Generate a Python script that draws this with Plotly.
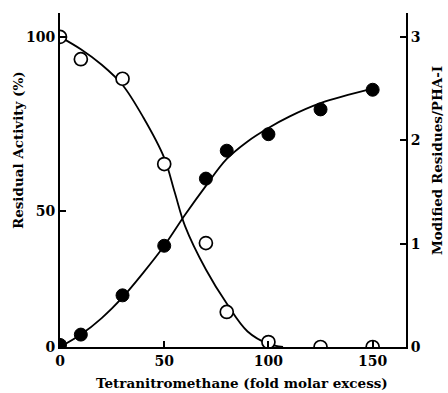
import plotly.graph_objects as go

# Open circles: residual activity (%)
act_x = [0, 10, 30, 50, 70, 80, 100, 125, 150]
act_y = [100, 92.8, 86.5, 59.0, 33.5, 11.3, 1.6, 0, 0]
# Filled circles: modified residues per PHA-I
mod_x = [0, 10, 30, 50, 70, 80, 100, 125, 150]
mod_y = [0.02, 0.12, 0.50, 0.98, 1.63, 1.90, 2.06, 2.30, 2.49]

# Hand-drawn fitted curves
act_curve_x = [0, 10, 20, 30, 40, 50, 55, 60, 70, 80, 90, 100, 107]
act_curve_y = [100, 96, 91, 84.5, 74, 61, 50, 39, 25, 14, 5, 1, 0]
mod_curve_x = [0, 10, 20, 30, 40, 50, 60, 70, 80, 90, 100, 110, 125, 150]
mod_curve_y = [0, 0.12, 0.28, 0.48, 0.72, 0.98, 1.28, 1.56, 1.82, 1.99, 2.12, 2.23, 2.36, 2.50]

x_ticks = [0, 50, 100, 150]
left_tickvals = [0, 43.9, 100]
left_ticktext = ["0", "50", "100"]
right_ticks = [0, 1, 2, 3]

font_family = "DejaVu Serif"
fig = go.Figure()

fig.add_trace(go.Scatter(x=act_curve_x, y=act_curve_y, mode="lines", line=dict(color="black", width=1.8, shape="spline"),
                         yaxis="y", showlegend=False, hoverinfo="skip"))
fig.add_trace(go.Scatter(x=mod_curve_x, y=mod_curve_y, mode="lines", line=dict(color="black", width=1.8, shape="spline"),
                         yaxis="y2", showlegend=False, hoverinfo="skip"))
fig.add_trace(go.Scatter(x=act_x, y=act_y, mode="markers", yaxis="y", showlegend=False, cliponaxis=True,
                         marker=dict(symbol="circle", size=13, color="white", line=dict(color="black", width=1.7))))
fig.add_trace(go.Scatter(x=mod_x, y=mod_y, mode="markers", yaxis="y2", showlegend=False, cliponaxis=True,
                         marker=dict(symbol="circle", size=13, color="black", line=dict(color="black", width=1))))

tickfont = dict(family=font_family, size=14, color="black", weight="bold")
titlefont = dict(family=font_family, size=13.5, color="black", weight="bold")
fig.update_layout(
    width=448, height=393,
    margin=dict(l=60, r=42, t=13, b=46),
    paper_bgcolor="white", plot_bgcolor="white",
    xaxis=dict(range=[0, 166], tickvals=x_ticks, ticks="inside", ticklen=6, tickwidth=1.5, tickcolor="black",
               showline=True, linecolor="black", linewidth=2, showgrid=False, zeroline=False,
               tickfont=tickfont),
    yaxis=dict(range=[0, 107.7], tickvals=left_tickvals, ticktext=left_ticktext, ticks="inside", ticklen=6,
               tickwidth=1.5, tickcolor="black", showline=True, linecolor="black", linewidth=2,
               showgrid=False, zeroline=False, tickfont=tickfont, ticklabelstandoff=0),
    yaxis2=dict(range=[0, 3.233], tickvals=right_ticks, overlaying="y", side="right", ticks="inside", ticklen=6,
                tickwidth=1.5, tickcolor="black", showline=True, linecolor="black", linewidth=2,
                showgrid=False, zeroline=False, tickfont=tickfont),
    annotations=[
        dict(text="Tetranitromethane (fold molar excess)", xref="paper", yref="paper", x=0.526, y=-0.108,
             yanchor="middle", showarrow=False, font=titlefont),
        dict(text="Residual Activity (%)", xref="paper", yref="paper", x=-0.121, xanchor="center", y=0.59,
             textangle=-90, showarrow=False, font=titlefont),
        dict(text="Modified Residues/PHA-I", xref="paper", yref="paper", x=1.09, xanchor="center", y=0.557,
             textangle=-90, showarrow=False, font=titlefont),
    ],
)

fig.write_html("out.html")
